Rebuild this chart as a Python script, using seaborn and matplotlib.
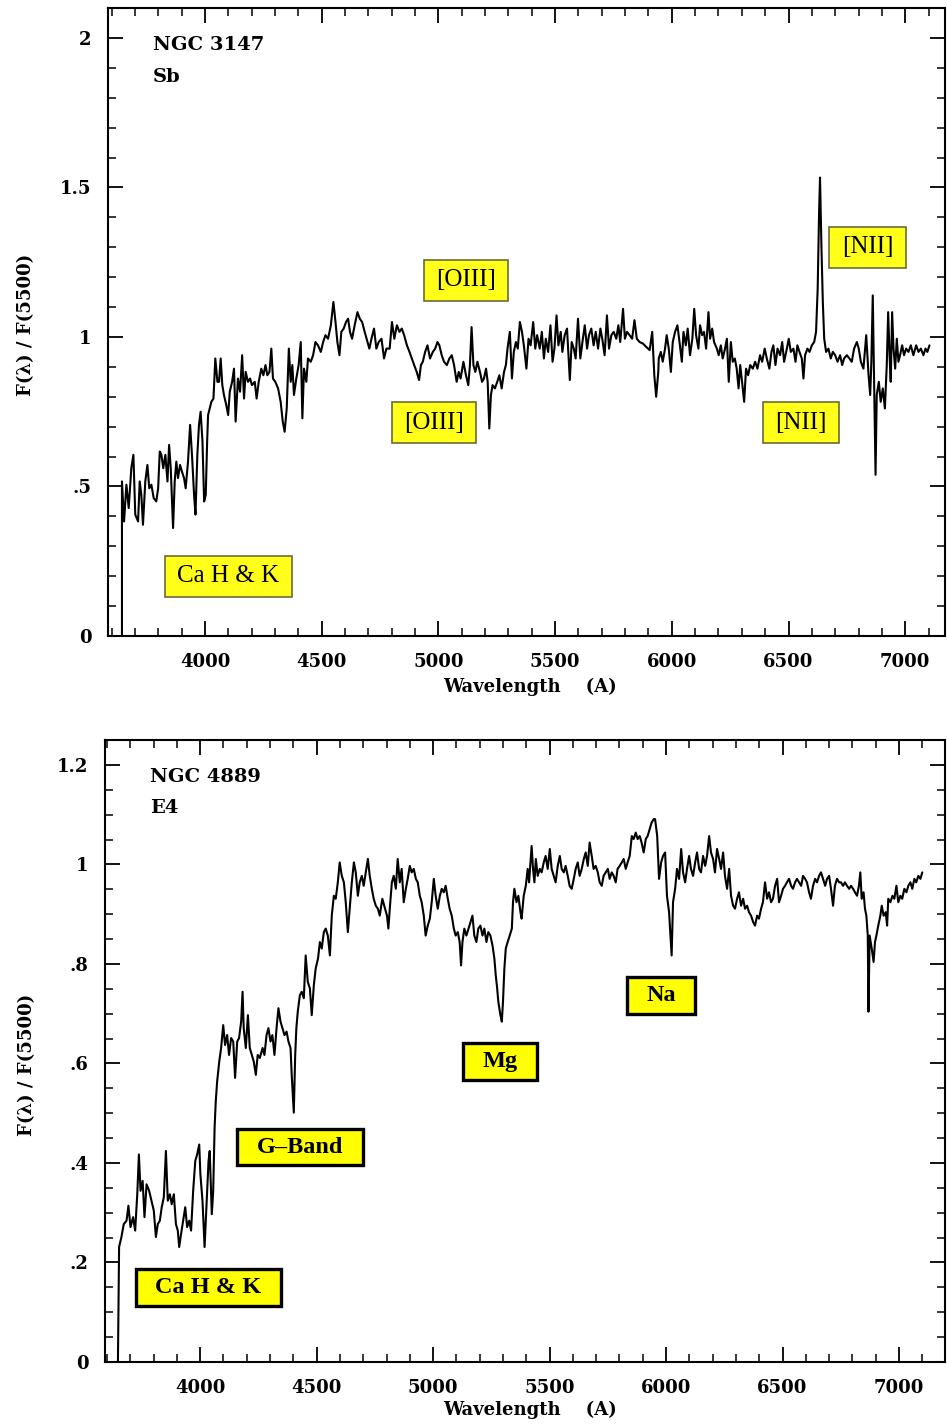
import matplotlib
matplotlib.use("Agg")
import matplotlib.pyplot as plt
from matplotlib.path import Path
from matplotlib.ticker import MultipleLocator, FuncFormatter
import pandas as pd
import seaborn as sns

# ---------------- NGC 3147 (Sb) ----------------
ngc3147_wave = [
    3644, 3644, 3653, 3663, 3673, 3684, 3693, 3701, 3713, 3720,
    3727, 3734, 3744, 3753, 3761, 3770, 3780, 3791, 3799, 3806,
    3813, 3821, 3830, 3839, 3846, 3853, 3863, 3870, 3877, 3884,
    3893, 3901, 3910, 3917, 3927, 3936, 3944, 3953, 3959, 3967,
    3974, 3981, 3989, 3996, 4003, 4009, 4013, 4020, 4027, 4036,
    4044, 4053, 4060, 4067, 4074, 4081, 4091, 4099, 4106, 4116,
    4124, 4131, 4141, 4150, 4159, 4167, 4174, 4184, 4193, 4201,
    4213, 4221, 4230, 4241, 4250, 4259, 4267, 4276, 4284, 4291,
    4301, 4313, 4324, 4333, 4341, 4350, 4359, 4367, 4374, 4381,
    4391, 4401, 4410, 4417, 4424, 4434, 4441, 4453, 4463, 4473,
    4484, 4496, 4506, 4516, 4527, 4539, 4550, 4559, 4567, 4576,
    4584, 4594, 4604, 4613, 4621, 4630, 4641, 4653, 4663, 4673,
    4684, 4696, 4704, 4713, 4724, 4734, 4744, 4756, 4767, 4777,
    4791, 4801, 4811, 4822, 4833, 4843, 4853, 4865, 4876, 4886,
    4896, 4907, 4917, 4925, 4933, 4943, 4953, 4964, 4976, 4986,
    4996, 5004, 5014, 5024, 5036, 5047, 5057, 5067, 5078, 5087,
    5095, 5107, 5118, 5128, 5135, 5142, 5150, 5158, 5167, 5178,
    5187, 5195, 5204, 5211, 5218, 5225, 5232, 5242, 5252, 5261,
    5271, 5281, 5289, 5296, 5306, 5315, 5323, 5332, 5340, 5349,
    5358, 5366, 5377, 5386, 5395, 5406, 5415, 5423, 5434, 5443,
    5452, 5460, 5470, 5480, 5489, 5497, 5506, 5514, 5524, 5531,
    5541, 5551, 5563, 5571, 5580, 5588, 5598, 5608, 5617, 5627,
    5637, 5645, 5655, 5665, 5674, 5684, 5694, 5702, 5712, 5722,
    5731, 5741, 5751, 5762, 5771, 5779, 5791, 5799, 5808, 5819,
    5830, 5840, 5850, 5862, 5876, 5890, 5905, 5916, 5925, 5933,
    5942,
    5944, 5953, 5961, 5971, 5978, 5987, 5996, 6004, 6014, 6024,
    6033, 6043, 6050, 6060, 6068, 6078, 6088, 6096, 6104, 6114,
    6121, 6130, 6138, 6147, 6157, 6164, 6173, 6181, 6193, 6201,
    6210, 6218, 6228, 6236, 6244, 6253, 6261, 6270, 6278, 6286,
    6293, 6301, 6310, 6318, 6327, 6336, 6347, 6357, 6367, 6378,
    6387, 6398, 6407, 6418, 6427, 6435, 6444, 6453, 6464, 6473,
    6481, 6493, 6501, 6510, 6521, 6530, 6538, 6547, 6557, 6564,
    6571, 6581, 6590, 6600, 6610, 6618, 6625, 6631, 6635, 6641,
    6647, 6653, 6661, 6671, 6681, 6690, 6700, 6710, 6721, 6730,
    6738, 6750, 6761, 6771, 6781, 6793, 6801, 6810, 6821, 6833,
    6843, 6850, 6855, 6861, 6867, 6873, 6878, 6887, 6895, 6904,
    6913, 6921, 6927, 6933, 6938, 6944, 6950, 6957, 6964, 6971,
    6978, 6987, 6995, 7004, 7014, 7024, 7035, 7047, 7057, 7067,
    7078, 7087, 7095, 7104,
]
ngc3147_flux = [
    0.0, .517, .383, .506, .428, .561, .606, .406, .383, .517,
    .472, .372, .517, .572, .494, .506, .461, .45, .494, .617,
    .606, .561, .606, .517, .639, .561, .361, .517, .583, .528,
    .572, .55, .528, .494, .583, .706, .606, .472, .406, .606,
    .706, .75, .65, .45, .472, .65, .739, .761, .783, .794,
    .928, .85, .85, .928, .839, .806, .772, .739, .817, .85,
    .894, .717, .861, .817, .939, .794, .883, .85, .861, .839,
    .85, .794, .85, .894, .872, .906, .872, .883, .961, .861,
    .85, .828, .783, .717, .683, .761, .961, .85, .906, .806,
    .861, .906, .983, .728, .894, .85, .928, .917, .939, .983,
    .972, .95, .983, 1.006, .994, 1.039, 1.117, 1.05, .983, .939,
    1.017, 1.028, 1.05, 1.061, 1.017, .994, 1.039, 1.083, 1.061, 1.05,
    1.017, .983, .961, .994, 1.028, .961, .983, .994, .928, .961,
    .961, 1.05, .994, 1.039, 1.017, 1.028, 1.006, .972, .95, .928,
    .906, .883, .856, .906, .917, .95, .972, .928, .95, .961,
    .983, .972, .939, .917, .906, .928, .939, .906, .85, .883,
    .861, .917, .872, .839, .906, 1.033, .906, .883, .917, .883,
    .85, .861, .894, .85, .694, .806, .839, .828, .85, .872,
    .828, .883, .906, .961, 1.017, .861, .95, .983, .961, 1.05,
    1.017, .972, .894, .994, .972, 1.05, .961, 1.006, .961, 1.017,
    .928, .994, .95, 1.039, .917, .961, 1.072, .972, 1.017, .95,
    1.006, 1.028, .856, .983, .961, .928, 1.061, .928, .983, 1.039,
    .961, 1.006, 1.028, .972, 1.017, .961, 1.028, .994, .939, 1.072,
    .961, 1.006, 1.017, .994, 1.039, .983, 1.094, .994, 1.017, 1.006,
    .994, 1.056, .994, .983, .978, .967, .956, 1.017, .872, .8,
    .883,
    .928, .95, .917, .961, 1.006, .961, .883, .983, 1.017, 1.039,
    .983, .917, 1.017, .972, 1.028, .939, .994, 1.094, 1.006, .961,
    1.039, 1.006, 1.017, .961, 1.083, .994, 1.028, .983, .961, .939,
    .972, .928, .961, .994, .85, .983, .917, .928, .894, .828,
    .906, .85, .783, .894, .872, .906, .894, .917, .894, .939,
    .917, .961, .928, .894, .95, .972, .906, .961, .939, .983,
    .917, .961, .994, .95, .961, .917, .972, .95, .928, .861,
    .939, .961, .95, .972, .983, 1.017, 1.161, 1.417, 1.533, 1.306,
    1.117, .994, .95, .961, .928, .95, .939, .917, .939, .906,
    .928, .939, .928, .917, .961, .983, .961, .917, .894, 1.006,
    .872, .806, .917, 1.139, .85, .539, .806, .85, .783, .828,
    .761, .906, 1.083, .939, .85, 1.083, .961, .894, .994, .917,
    .939, .972, .939, .961, .95, .972, .939, .972, .95, .961,
    .939, .961, .95, .972,
]

# ---------------- NGC 4889 (E4) ----------------
ngc4889_wave = [
    3647, 3652, 3662, 3672, 3684, 3692, 3701, 3712, 3721, 3730,
    3737, 3744, 3753, 3761, 3770, 3781, 3791, 3801, 3810, 3818,
    3827, 3835, 3844, 3853, 3861, 3870, 3878, 3887, 3896, 3904,
    3910, 3918, 3927, 3936, 3944, 3953, 3961, 3970, 3979, 3987,
    3996, 4001, 4010, 4019, 4027, 4036, 4041, 4050, 4056, 4062,
    4067, 4073, 4082, 4090, 4099, 4107, 4116, 4124, 4133, 4142,
    4150, 4159, 4167, 4176, 4182, 4187, 4196, 4205, 4213, 4222,
    4230, 4239, 4247, 4256, 4268, 4276, 4285, 4293, 4302, 4310,
    4319, 4328, 4336, 4345, 4353, 4362, 4371, 4379, 4388, 4393,
    4402, 4408, 4413, 4419, 4428, 4436, 4445, 4453, 4462, 4471,
    4479, 4488, 4496, 4506, 4514, 4522, 4531, 4539, 4548, 4557,
    4565, 4574, 4582, 4591, 4599, 4608, 4617, 4625, 4634, 4642,
    4651, 4660, 4668, 4677, 4685, 4694, 4702, 4711, 4720, 4728,
    4737, 4745, 4754, 4763, 4771,
    4782, 4794, 4802, 4808, 4815, 4823, 4831, 4840, 4848, 4857,
    4865, 4874, 4883, 4891, 4900, 4908, 4917, 4926, 4934, 4943,
    4951, 4960, 4968, 4977, 4986, 4994, 5003, 5011, 5020, 5029,
    5037, 5046, 5054, 5063, 5071, 5080, 5089, 5097, 5106, 5114,
    5120, 5126, 5134, 5143, 5152, 5160, 5169, 5177, 5186, 5194,
    5203, 5212, 5220, 5229, 5237, 5246, 5255, 5263, 5269, 5275,
    5280, 5289, 5295, 5300, 5306, 5312, 5320, 5329, 5338, 5343,
    5349, 5358, 5366, 5375, 5380, 5389, 5398, 5406, 5412, 5418,
    5423, 5429, 5435, 5441, 5449, 5458, 5466, 5475, 5483, 5492,
    5501, 5509, 5518, 5526, 5535, 5544, 5552, 5561, 5569, 5578,
    5586, 5595, 5604, 5612, 5621, 5629, 5638, 5647, 5655, 5664,
    5672, 5681, 5689, 5698, 5707, 5715, 5724, 5732, 5741, 5750,
    5758, 5767, 5775, 5784, 5792, 5801, 5810, 5818, 5827, 5835,
    5844, 5853, 5861, 5870, 5878, 5887, 5895, 5904, 5913, 5921,
    5930, 5938, 5947,
    5953, 5962, 5970, 5979, 5987, 5996, 6004, 6013, 6019, 6024,
    6030, 6039, 6047, 6056, 6065, 6073, 6082, 6090, 6099, 6107,
    6116, 6125, 6133, 6142, 6150, 6159, 6168, 6176, 6185, 6193,
    6202, 6210, 6219, 6228, 6236, 6245, 6253, 6262, 6271, 6279,
    6288, 6296, 6305, 6313, 6322, 6331, 6339, 6348, 6356, 6365,
    6374, 6382, 6391, 6399, 6408, 6416, 6425, 6434, 6442, 6451,
    6459, 6468, 6477, 6485, 6494, 6502, 6511, 6519, 6528, 6537,
    6545, 6554, 6562, 6571, 6580, 6588, 6597, 6605, 6614, 6622,
    6631, 6640, 6648, 6657, 6665, 6674, 6683, 6691, 6700, 6708,
    6717, 6725, 6734, 6743, 6751, 6760, 6768, 6777, 6786, 6794,
    6803, 6811, 6820, 6828, 6834, 6840, 6848, 6854, 6860, 6866,
    6869, 6874, 6883, 6891, 6897, 6903, 6911, 6920, 6926, 6934,
    6943, 6949, 6954, 6963, 6972, 6980, 6989, 6997, 7006, 7014,
    7023, 7032, 7040, 7049, 7057, 7066, 7074, 7083, 7092, 7100,
]
ngc4889_flux = [
    0.0, .231, .251, .277, .284, .314, .271, .291, .264, .337,
    .417, .344, .364, .291, .357, .344, .324, .304, .251, .277,
    .284, .311, .331, .424, .324, .337, .317, .337, .277, .264,
    .231, .257, .284, .311, .271, .284, .264, .344, .404, .417,
    .437, .377, .324, .231, .311, .404, .424, .297, .344, .471,
    .524, .564, .604, .631, .677, .637, .657, .617, .651, .644,
    .571, .644, .651, .684, .744, .671, .631, .697, .631, .617,
    .604, .577, .617, .611, .631, .617, .657, .671, .644, .657,
    .617, .671, .711, .684, .671, .657, .664, .644, .631, .577,
    .501, .617, .671, .704, .737, .744, .731, .817, .764, .751,
    .697, .757, .791, .811, .844, .831, .864, .871, .857, .817,
    .897, .937, .931, .964, 1.004, .977, .964, .924, .864, .911,
    .964, 1.004, .984, .937, .964, .977, .957, .984, 1.011, .977,
    .951, .931, .917, .911, .897,
    .931, .911, .897, .871, .917, .964, .977, .951, 1.011, .964,
    .991, .924, .951, .971, .997, .984, .991, .971, .964, .937,
    .924, .897, .857, .877, .891, .924, .971, .937, .911, .937,
    .951, .944, .957, .931, .911, .897, .871, .857, .864, .844,
    .797, .844, .871, .857, .871, .884, .897, .857, .844, .871,
    .877, .857, .871, .844, .864, .857, .837, .811, .777, .751,
    .724, .697, .684, .724, .791, .831, .844, .857, .871, .924,
    .951, .924, .937, .904, .891, .937, .957, .991, .964, 1.004,
    1.037, .991, .964, 1.011, .977, .991, .984, 1.004, 1.017, .991,
    1.031, .991, .977, .964, .997, 1.017, .991, .984, .997, .977,
    .957, .951, .971, .991, 1.004, .977, .991, 1.011, 1.024, .997,
    1.044, 1.017, .991, .997, .984, .964, .957, .977, .984, .991,
    .971, .984, .977, .964, .991, .997, 1.004, 1.011, .991, 1.004,
    1.017, 1.057, 1.051, 1.064, 1.051, 1.057, 1.044, 1.024, 1.051, 1.057,
    1.071, 1.084, 1.091,
    1.091, 1.057, .971, 1.004, 1.017, 1.024, .937, .904, .857, .817,
    .924, .951, .991, .971, 1.031, .984, .964, .991, 1.017, .991,
    .977, 1.004, 1.024, .991, .984, 1.017, .997, 1.017, 1.057, 1.024,
    1.011, .984, 1.031, 1.011, .991, 1.024, .977, .951, .991, .937,
    .917, .911, .931, .944, .917, .931, .911, .917, .904, .897,
    .884, .877, .897, .891, .911, .924, .964, .931, .944, .924,
    .931, .957, .971, .924, .937, .951, .957, .964, .971, .957,
    .951, .964, .971, .964, .957, .977, .971, .964, .944, .931,
    .957, .971, .964, .977, .984, .971, .957, .971, .977, .951,
    .917, .957, .971, .964, .964, .957, .964, .957, .951, .957,
    .951, .944, .937, .957, .984, .931, .944, .911, .897, .857,
    .704, .857, .831, .804, .844, .857, .877, .897, .917, .897,
    .904, .877, .931, .924, .937, .931, .957, .924, .937, .931,
    .951, .944, .957, .964, .951, .971, .964, .977, .971, .984,
]

# Line identifications for each panel
ngc3147_lines = ["[OIII]", "[OIII]", "[NII]", "[NII]", "Ca H & K"]
ngc3147_line_wave = [5118, 4981, 6839, 6554, 4099]
ngc3147_line_flux = [1.19, 0.713, 1.30, 0.713, 0.20]

ngc4889_lines = ["Na", "Mg", "G\u2013Band", "Ca H & K"]
ngc4889_line_wave = [5979, 5288, 4429, 4034]
ngc4889_line_flux = [0.736, 0.604, 0.432, 0.15]

sns.set_theme(style="ticks")
plt.rcParams.update({
    "font.family": ["DejaVu Serif"],
    "text.color": "black",
    "axes.labelcolor": "black",
    "axes.linewidth": 1.5,
    "axes.edgecolor": "black",
    "xtick.direction": "in",
    "ytick.direction": "in",
    "xtick.top": True,
    "ytick.right": True,
    "xtick.color": "black",
    "ytick.color": "black",
    "xtick.labelcolor": "black",
    "ytick.labelcolor": "black",
})


def label_box(padx, pady):
    """Rectangular bbox with independent horizontal / vertical padding."""
    def box(x0, y0, width, height, mutation_size):
        px, py = padx * mutation_size, pady * mutation_size
        x0, y0 = x0 - px, y0 - py
        x1, y1 = x0 + width + 2 * px, y0 + height + 2 * py
        return Path([(x0, y0), (x1, y0), (x1, y1), (x0, y1), (x0, y0)],
                    [Path.MOVETO, Path.LINETO, Path.LINETO, Path.LINETO, Path.CLOSEPOLY])
    return box


def short_fmt(v, pos):
    s = f"{v:g}"
    if s.startswith("0."):
        s = s[1:]
    return s


def style_axes(ax, xlim, ylim, ymajor, yminor):
    ax.set_xlim(*xlim)
    ax.set_ylim(*ylim)
    ax.xaxis.set_major_locator(MultipleLocator(500))
    ax.xaxis.set_minor_locator(MultipleLocator(100))
    ax.yaxis.set_major_locator(MultipleLocator(ymajor))
    ax.yaxis.set_minor_locator(MultipleLocator(yminor))
    ax.yaxis.set_major_formatter(FuncFormatter(short_fmt))
    ax.tick_params(which="major", length=11, width=1.3, labelsize=13)
    ax.tick_params(which="minor", length=5.5, width=1.1)
    ax.tick_params(axis="x", which="major", pad=12, top=True)
    ax.tick_params(axis="y", which="major", pad=12, right=True)
    ax.tick_params(which="minor", top=True, right=True)
    ax.tick_params(labelright=False, labeltop=False)
    for lbl in ax.get_xticklabels() + ax.get_yticklabels():
        lbl.set_fontweight("bold")
    for sp in ax.spines.values():
        sp.set_visible(True)
        sp.set_linewidth(1.5)
    ax.set_xlabel("Wavelength    (A)", fontsize=13, fontweight="bold")
    ax.set_ylabel("F(\u03bb) / F(5500)", fontsize=13, fontweight="bold")


fig = plt.figure(figsize=(9.47, 14.27), dpi=100)
fig.patch.set_facecolor("white")

# ---- upper panel ----
ax1 = fig.add_axes([0.114, 0.5543, 0.884, 0.4401])
top_df = pd.DataFrame({"wave": ngc3147_wave, "flux": ngc3147_flux})
sns.lineplot(data=top_df, x="wave", y="flux", ax=ax1, color="black",
             linewidth=1.5, sort=False, estimator=None)
style_axes(ax1, (3584, 7171), (0, 2.1), 0.5, 0.1)
ax1.xaxis.set_label_coords(0.504, -0.066)
ax1.yaxis.set_label_coords(-0.087, 0.495)
ax1.text(0.054, 0.941, "NGC 3147", transform=ax1.transAxes, fontsize=14,
         fontweight="bold", ha="left", va="center")
ax1.text(0.054, 0.890, "Sb", transform=ax1.transAxes, fontsize=14,
         fontweight="bold", ha="left", va="center")
for lab, w, f in zip(ngc3147_lines, ngc3147_line_wave, ngc3147_line_flux):
    ax1.text(w, f, lab, ha="center", va="center", fontsize=18,
             family="Liberation Serif",
             bbox=dict(boxstyle=label_box(0.5, 0.38), fc="#ffff1a",
                       ec="#6b6b3a", lw=1.2))

# ---- lower panel ----
ax2 = fig.add_axes([0.111, 0.0456, 0.887, 0.4358])
bot_df = pd.DataFrame({"wave": ngc4889_wave, "flux": ngc4889_flux})
sns.lineplot(data=bot_df, x="wave", y="flux", ax=ax2, color="black",
             linewidth=1.5, sort=False, estimator=None)
style_axes(ax2, (3592, 7198), (0, 1.25), 0.2, 0.05)
ax2.xaxis.set_label_coords(0.506, -0.063)
ax2.yaxis.set_label_coords(-0.082, 0.477)
ax2.text(0.054, 0.940, "NGC 4889", transform=ax2.transAxes, fontsize=14,
         fontweight="bold", ha="left", va="center")
ax2.text(0.054, 0.891, "E4", transform=ax2.transAxes, fontsize=14,
         fontweight="bold", ha="left", va="center")
for lab, w, f in zip(ngc4889_lines, ngc4889_line_wave, ngc4889_line_flux):
    ax2.text(w, f, lab, ha="center", va="center", fontsize=17.5,
             family="Liberation Serif", fontweight="bold",
             bbox=dict(boxstyle=label_box(0.8, 0.32), fc="#ffff00",
                       ec="black", lw=2.4))

fig.savefig("out.png", dpi=100, facecolor="white")
